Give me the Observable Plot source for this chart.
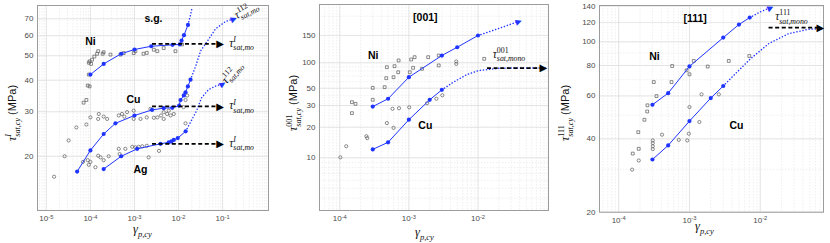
<!DOCTYPE html>
<html><head><meta charset="utf-8">
<script src="https://cdn.jsdelivr.net/npm/d3@7"></script>
<script src="https://cdn.jsdelivr.net/npm/@observablehq/plot@0.6"></script>
<style>
body{margin:0;background:#fff;}
#fig{position:relative;width:830px;height:243px;overflow:hidden;background:#fff;}
#fig svg{position:absolute;top:0;}
</style></head><body><div id="fig"></div>
<script>
// ================= DATA =================
// ---- Panel 1 : single glide (s.g.) ----
const p1NiLine = [[1e-4,42.1],[2e-4,46.4],[5e-4,50.9],[1e-3,52.9],[2.4e-3,54.5],[7.3e-3,55.2],[1.07e-2,55.4],[1.17e-2,57.4],[1.33e-2,60.3],[1.64e-2,66.2]];
const p1NiDotted = [[1.64e-2,66.2],[1.85e-2,72],[2.05e-2,78]];
const p1CuLine = [[5e-5,17.4],[1e-4,21.1],[2e-4,24.5],[3.7e-4,27.0],[1e-3,29.0],[2.5e-3,30.5],[4.6e-3,31.0],[7.2e-3,31.1],[1.03e-2,31.7],[1.11e-2,33.4],[1.32e-2,34.8],[1.44e-2,35.8],[1.63e-2,37.8],[1.87e-2,40.2]];
const p1CuDotted = [[1.87e-2,40.2],[2.43e-2,45.3],[3.16e-2,52.2],[4.55e-2,57.2],[6.93e-2,63.9],[0.117,68.3],[0.178,70]];
const p1AgLine = [[2e-4,17.8],[5e-4,20.0],[1.15e-3,21.4],[3.9e-3,22.4],[6.0e-3,22.7],[6.9e-3,22.9],[7.8e-3,23.2],[9.6e-3,23.6],[1.45e-2,25.1]];
const p1AgDotted = [[1.45e-2,25.1],[2.57e-2,30.3],[3.34e-2,34.1],[4.78e-2,36.7],[6.93e-2,37.9],[0.1,38.7]];
const p1Heads = [[0.178,70,-22],[0.1,38.7,-32]];
const p1Sat = [55.7, 31.5, 22.4];            // tau^I_sat,mo levels
const p1SatX = [2.5e-3, 0.088];
const p1Squares = [[9.2e-5,42.1],[8.7e-5,38.1],[9.6e-5,37.8],[8.1e-5,33.4],[7.0e-5,32.6],[9.2e-5,46.9],[1.04e-4,46.4],[9.6e-5,47.5],[1.09e-4,48.2],[1.23e-4,49.6],[1.42e-4,50.9],[1.5e-4,52.1],[1.9e-4,50.9],[2.0e-4,51.6],[2.85e-4,50.5],[4.8e-4,50.5],[5.7e-4,51.2],[9.6e-4,51.2],[1.05e-3,52.1],[1.6e-3,50.9],[1.9e-3,51.3],[2.75e-3,52.8],[3.3e-3,52.1],[4.6e-3,53.6],[8.5e-3,52.1],[1.2e-2,55.4]];
const p1Circles = [[1.5e-5,16.6],[2.6e-5,20.0],[3.2e-5,23.1],[4.8e-5,26.0],[8.1e-5,26.7],[1e-4,28.5],[1.55e-4,29.4],[1.5e-4,28.1],[2e-4,28.7],[2.4e-4,28.1],[4.4e-4,29.0],[5.2e-4,29.4],[5.9e-4,28.7],[6.8e-4,29.9],[9.6e-4,30.3],[9.6e-4,28.1],[1.37e-3,28.1],[1.9e-3,28.5],[2.3e-3,30.8],[2.75e-3,28.4],[3.3e-3,28.5],[4.0e-3,29.0],[4.6e-3,29.9],[4.6e-3,28.1],[5.5e-3,29.4],[6.0e-3,30.3],[6.6e-3,29.0],[7.8e-3,29.4],[1.3e-2,31.3],[1.44e-2,33.4],[1.57e-2,34.8],
  [6.8e-5,19.0],[8.7e-5,19.3],[9.2e-5,18.5],[1e-4,19.0],[1.3e-4,18.1],[1.5e-4,20.1],[1.7e-4,19.8],[2e-4,19.3],[2.6e-4,20.0],[4.4e-4,21.4],[4.6e-4,20.4],[6.2e-4,21.4],[8.9e-4,21.8],[1.05e-3,21.7],[1.25e-3,21.8],[1.5e-3,21.9],[1.9e-3,22.0],[2.1e-3,19.8],[3.6e-3,21.0],[1.44e-2,27.0]];
const p1Labels = [["Ni",1e-4,57.1],["Cu",9.5e-4,33.5],["Ag",1.37e-3,17.7],["s.g.",2.7e-3,70.2]];
const p1Ann = [[0.145,54.1,"I","sat,mo",0],[0.145,30.5,"I","sat,mo",0],[0.145,21.7,"I","sat,mo",0],[0.215,69.6,"112","sat,mo",-28],[0.125,38.4,"112","sat,mo",-50]];
const p1XTicks = [1e-5,1e-4,1e-3,1e-2,1e-1];
const p1YTicks = [20,30,40,50,60,70];

// ---- Panel 2 : [001] ----
const p2NiLine = [[3e-4,29.4],[5e-4,36.6],[1e-3,67.5],[3e-3,111.4],[5e-3,126],[1e-2,150]];
const p2NiDotted = [[1e-2,150],[1.88e-2,165],[3.86e-2,185]];
const p2CuLine = [[3e-4,12.1],[5e-4,14.2],[1e-3,23.0],[2e-3,35.5],[3e-3,47.6]];
const p2CuDotted = [[3e-3,47.6],[4.4e-3,58.9],[6.9e-3,72.6],[1.03e-2,81],[2.1e-2,86.3],[5.1e-2,86.9],[0.1,87]];
const p2Heads = [[3.86e-2,185,-19]];
const p2Sat = [86.5];
const p2SatX = [1.35e-2, 0.088];
const p2Squares = [[1.5e-4,33.1],[1.69e-4,31.5],[1.5e-4,26.0],[3.0e-4,50.5],[3.0e-4,35.5],[4.46e-4,51.4],[4.7e-4,65.7],[4.8e-4,88.7],[6.0e-4,67.5],[6.2e-4,91.2],[7.0e-4,77.3],[7.1e-4,103.5],[1.08e-3,105],[1.03e-3,77.3],[1.15e-3,87.2],[1.21e-3,108.7],[1.55e-3,84.9],[1.9e-3,108.7],[2.7e-3,111.4],[2.7e-3,93],[1.23e-2,106.1]];
const p2Circles = [[1.02e-4,10.1],[1.24e-4,13.0],[2.43e-4,16.3],[2.5e-4,15.6],[4.8e-4,21.6],[6.0e-4,19.7],[5.8e-4,28.2],[7.2e-4,28.5],[1.01e-3,29.0],[1.83e-3,32.1],[2.5e-3,36.6],[3.05e-3,40.6],[4.85e-3,102],[4.85e-3,97]];
const p2Labels = [["[001]",1.73e-3,196],["Ni",3.04e-4,111],["Cu",1.73e-3,20.6]];
const p2Ann = [[0.0166,106.6,"001","sat,mono",0]];
const p2XTicks = [1e-4,1e-3,1e-2];
const p2YTicks = [10,20,30,50,100,150];
const p2YBreaks = [3.03,10,20,30,50,100,150,238];   // the printed axis is not uniformly logarithmic

// ---- Panel 3 : [111] ----
const p3NiLine = [[3e-4,55.2],[5e-4,61.6],[1e-3,79.3],[3e-3,104.1],[5e-3,117.8],[7.1e-3,125.8]];
const p3NiDotted = [[7.1e-3,125.8],[1e-2,132.7],[1.39e-2,138.3]];
const p3CuLine = [[3e-4,32.9],[5e-4,37.6],[1e-3,47.3],[2e-3,58.8],[3e-3,65.9]];
const p3CuDotted = [[3e-3,65.9],[4.47e-3,74.1],[7.3e-3,85.3],[1.32e-2,98.4],[2.52e-2,108.1],[4.8e-2,112.6],[7.8e-2,113.4]];
const p3Heads = [[1.39e-2,138.3,-24]];
const p3Sat = [114.5];
const p3SatX = [1.31e-2, 0.0708];
const p3Squares = [[1.58e-4,34.8],[1.92e-4,36.4],[1.89e-4,42.6],[2.31e-4,47.9],[2.53e-4,51.8],[2.55e-4,54.9],[3.13e-4,68.4],[3.42e-4,59.9],[5.57e-4,68.4],[5.7e-4,79.6],[9.1e-4,76.4],[1.0e-3,73.6],[1.15e-3,83.5],[1.81e-3,79.2],[3.59e-3,83.5],[7.0e-3,87.5]];
const p3Circles = [[1.55e-4,29.9],[1.92e-4,32.6],[3.03e-4,39.4],[3.03e-4,38.4],[3.03e-4,37.3],[3.03e-4,36.3],[4.1e-4,41.6],[7.06e-4,39.6],[9.3e-4,39.4],[9.8e-4,42.0],[1.0e-3,54.0],[1.38e-3,46.9],[1.48e-3,60.9],[2.6e-3,60.9]];
const p3Labels = [["[111]",1.2e-3,125],["Ni",3.2e-4,86.7],["Cu",4.6e-3,45.4]];
const p3Ann = [[0.0165,122,"111","sat,mono",0]];
const p3XTicks = [1e-4,1e-3,1e-2];
const p3YTicks = [20,40,60,80,100,120,140];

// ================= DRAWING =================
const BLUE = "#1f35ff";
const fig = document.getElementById("fig");
const X = d => d[0], Y = d => d[1];
const expFmt = d => "10^" + Math.round(Math.log10(d));

function minorTicks(lo, hi) {
  const out = [];
  for (let e = Math.floor(Math.log10(lo)) - 1; e <= Math.ceil(Math.log10(hi)); e++)
    for (let m = 1; m <= 9; m++) { const v = m * Math.pow(10, e); if (v > lo * 1.0001 && v < hi * 0.9999) out.push(v); }
  return out;
}

function panel(o) {
  const xDom = o.x.domain, yLo = o.y.domain[0], yHi = o.y.domain[o.y.domain.length - 1];
  const xMinor = minorTicks(xDom[0], xDom[1]);
  const yMinor = minorTicks(yLo, yHi);
  const marks = [
    Plot.ruleX(xMinor, {stroke: "#e4e4e4", strokeWidth: 0.6, strokeDasharray: "1.5,1.5"}),
    Plot.ruleY(yMinor, {stroke: "#e4e4e4", strokeWidth: 0.6, strokeDasharray: "1.5,1.5"}),
    Plot.ruleX(o.x.ticks, {stroke: "#dcdcdc", strokeWidth: 0.7}),
    Plot.ruleY(o.y.ticks, {stroke: "#dcdcdc", strokeWidth: 0.7}),
    Plot.frame({stroke: "#9c9c9c", strokeWidth: 1}),
    Plot.dot(o.squares, {x: X, y: Y, symbol: "square", r: 1.6, stroke: "#5a5a5a", strokeWidth: 0.7, fill: "none"}),
    Plot.dot(o.circles, {x: X, y: Y, symbol: "circle", r: 1.6, stroke: "#5a5a5a", strokeWidth: 0.7, fill: "none"}),
  ];
  for (const L of o.lines) {
    marks.push(Plot.line(L, {x: X, y: Y, stroke: BLUE, strokeWidth: 1}));
    marks.push(Plot.dot(L, {x: X, y: Y, r: 2.1, fill: BLUE}));
  }
  for (const D of o.dotted)
    marks.push(Plot.line(D, {x: X, y: Y, stroke: BLUE, strokeWidth: 1.5, strokeDasharray: "0.1,3", strokeLinecap: "round"}));
  for (const s of o.sat)
    marks.push(Plot.link([s], {x1: o.satX[0], x2: o.satX[1], y1: d => d, y2: d => d, stroke: "#000", strokeWidth: 1.7, strokeDasharray: "4,2.6"}));
  marks.push(Plot.text(o.sat, {x: o.satX[1], y: d => d, text: () => "\u25B6", fill: "#000", fontSize: 10, fontFamily: "DejaVu Sans"}));
  marks.push(Plot.text(o.heads, {x: X, y: Y, rotate: d => d[2], text: () => "\u25B6", fill: BLUE, fontSize: 8, fontFamily: "DejaVu Sans"}));
  marks.push(Plot.text(o.labels, {x: d => d[1], y: d => d[2], text: d => d[0], fill: "#000", fontSize: 10.5, fontWeight: "bold", fontFamily: "Liberation Sans, Arial, sans-serif"}));

  const svg = Plot.plot({
    width: o.width, height: 243,
    marginLeft: o.m[0], marginRight: o.m[1], marginTop: o.m[2], marginBottom: o.m[3],
    style: {fontFamily: "Liberation Sans, Arial, sans-serif", fontSize: "8px", color: "#4a4a4a", background: "transparent", overflow: "visible"},
    x: {type: "log", domain: xDom, ticks: o.x.ticks, tickFormat: expFmt, tickSize: 0, tickPadding: 5, label: null},
    y: Object.assign({type: "log", ticks: o.y.ticks, tickFormat: d => String(d), tickSize: 0, tickPadding: 4, label: null}, o.y),
    marks
  });
  svg.style.left = o.left + "px";
  fig.appendChild(svg);
  // superscript exponents in x tick labels
  d3.select(svg).selectAll("text").each(function () {
    const m = /^10\^(.+)$/.exec(this.textContent);
    if (m) {
      const s = d3.select(this); s.text(null);
      s.append("tspan").text("10");
      s.append("tspan").attr("dy", "-0.45em").attr("font-size", "0.72em").text(m[1]);
    }
  });
  return svg;
}

// tau / gamma labels with stacked super- and subscripts
function sym(svg, {x, y, rotate = 0, main, sup, sub, tail, size = 11}) {
  const g = d3.select(svg).append("g").attr("transform", `translate(${x},${y}) rotate(${rotate})`);
  const t = g.append("text").attr("fill", "#111").attr("font-size", size).attr("text-anchor", "start");
  t.append("tspan").attr("font-family", "Liberation Serif, Times New Roman, serif").attr("font-style", "italic").text(main);
  const s1 = size * 0.42, s2 = size * 0.3, fs = size * 0.68;
  let wSup = 0;
  if (sup) {
    const ts = t.append("tspan").attr("dy", -s1).attr("font-size", fs)
      .attr("font-family", "Liberation Serif, serif")
      .attr("font-style", sup === "I" ? "italic" : "normal").text(sup);
    wSup = ts.node().getComputedTextLength();
  }
  t.append("tspan").attr("dx", -wSup).attr("dy", (sup ? s1 : 0) + s2).attr("font-size", fs)
    .attr("font-family", "Liberation Serif, serif").attr("font-style", "italic").text(sub);
  if (tail) t.append("tspan").attr("dy", -s2).attr("dx", 3).attr("font-size", size * 0.92)
    .attr("font-family", "Liberation Sans, Arial, sans-serif").text(tail);
  return t;
}

function annotate(svg, anns) {
  const sx = svg.scale("x"), sy = svg.scale("y");
  for (const [ax, ay, sup, sub, r] of anns)
    sym(svg, {x: sx.apply(ax), y: sy.apply(ay), rotate: r, main: "\u03C4", sup, sub, size: 11.5});
}

// ---- panel 1 ----
const s1 = panel({
  left: 0, width: 280, m: [37, 12, 5, 33],
  x: {domain: [6.3e-6, 1.1], ticks: p1XTicks},
  y: {domain: [12.2, 79], ticks: p1YTicks},
  squares: p1Squares, circles: p1Circles,
  lines: [p1NiLine, p1CuLine, p1AgLine], dotted: [p1NiDotted, p1CuDotted, p1AgDotted],
  heads: p1Heads, sat: p1Sat, satX: p1SatX, labels: p1Labels
});
annotate(s1, p1Ann);
sym(s1, {x: 16, y: 141, rotate: -90, main: "\u03C4", sup: "I", sub: "sat,cy", tail: "(MPa)", size: 12});
sym(s1, {x: 133, y: 233, main: "\u03B3", sub: "p,cy", size: 12.5});

// ---- panel 2 ----
const s2 = panel({
  left: 280, width: 275, m: [39, 7, 4, 33],
  x: {domain: [5.09e-5, 0.1047], ticks: p2XTicks},
  y: {domain: p2YBreaks, range: [210, 157.3, 126.7, 105, 87.7, 62.3, 35, 4], ticks: p2YTicks},
  squares: p2Squares, circles: p2Circles,
  lines: [p2NiLine, p2CuLine], dotted: [p2NiDotted, p2CuDotted],
  heads: p2Heads, sat: p2Sat, satX: p2SatX, labels: p2Labels
});
annotate(s2, p2Ann);
sym(s2, {x: 17, y: 131, rotate: -90, main: "\u03C4", sup: "001", sub: "sat,cy", tail: "(MPa)", size: 12});
sym(s2, {x: 135, y: 236, main: "\u03B3", sub: "p,cy", size: 12.5});

// ---- panel 3 ----
const s3 = panel({
  left: 555, width: 275, m: [44, 7, 5, 31.3],
  x: {domain: [5.36e-5, 0.0782], ticks: p3XTicks},
  y: {domain: [20, 141], ticks: p3YTicks},
  squares: p3Squares, circles: p3Circles,
  lines: [p3NiLine, p3CuLine], dotted: [p3NiDotted, p3CuDotted],
  heads: p3Heads, sat: p3Sat, satX: p3SatX, labels: p3Labels
});
annotate(s3, p3Ann);
sym(s3, {x: 14, y: 141, rotate: -90, main: "\u03C4", sup: "111", sub: "sat,cy", tail: "(MPa)", size: 12});
sym(s3, {x: 140, y: 230, main: "\u03B3", sub: "p,cy", size: 12.5});
</script></body></html>
